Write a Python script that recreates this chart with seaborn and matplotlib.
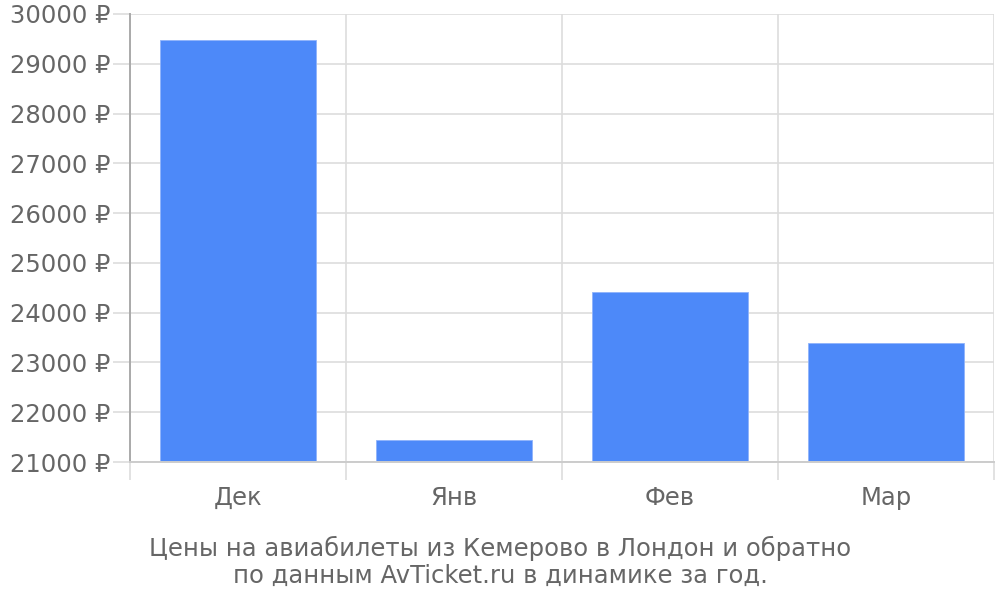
import matplotlib
matplotlib.use("Agg")
import matplotlib.pyplot as plt
import numpy as np
import pandas as pd
import seaborn as sns

# данные графика
months = ["Дек", "Янв", "Фев", "Мар"]
prices = [29470, 21450, 24420, 23385]
y_ticks = list(range(21000, 30001, 1000))
caption = "Цены на авиабилеты из Кемерово в Лондон и обратно\nпо данным AvTicket.ru в динамике за год."

TEXT = "#666666"
GRID = "#dddddd"
FS = 17.5

sns.set_theme(style="white")
plt.rcParams["font.family"] = ["DejaVu Sans"]

df = pd.DataFrame({"month": months, "price": prices})

fig = plt.figure(figsize=(10, 6), dpi=100)
ax = fig.add_axes([0.13, 0.23, 0.864, 0.7467])

sns.barplot(data=df, x="month", y="price", color="#4d89f9", saturation=1,
            width=0.72, edgecolor="#8fb3fb", linewidth=0.6, ax=ax, zorder=3)

ax.set_ylim(y_ticks[0], y_ticks[-1])
ax.set_xlim(-0.5, len(months) - 0.5)
ax.set_yticks(y_ticks)
ax.set_yticklabels([f"{v} ₽" for v in y_ticks])

# границы категорий: вертикальная сетка и засечки вниз
bounds = np.arange(len(months) + 1) - 0.5
ax.set_xticks(bounds)
ax.set_xticklabels([""] * len(bounds))
ax.set_xticks(np.arange(len(months)), minor=True)
ax.set_xticklabels(months, minor=True)
ax.tick_params(axis="x", which="both", bottom=True)
ax.tick_params(axis="y", left=True)
ax.tick_params(axis="x", which="major", length=13, width=1.2, color=GRID, direction="out")
ax.tick_params(axis="x", which="minor", length=0, pad=17, labelsize=FS, labelcolor=TEXT)
ax.tick_params(axis="y", length=12, width=1.2, color=GRID, pad=2, labelsize=FS, labelcolor=TEXT)

ax.grid(True, which="major", color=GRID, linewidth=1.2, zorder=0)
ax.set_axisbelow(True)

for side in ["top", "right"]:
    ax.spines[side].set_visible(False)
ax.spines["left"].set_color("#aaaaaa")
ax.spines["left"].set_linewidth(1.4)
ax.spines["bottom"].set_color("#cccccc")
ax.spines["bottom"].set_linewidth(1.4)
ax.spines["left"].set_zorder(4)
ax.spines["bottom"].set_zorder(4)

ax.set_xlabel("")
ax.set_ylabel("")

fig.text(0.5, 0.064, caption, ha="center", va="center", fontsize=FS,
         color=TEXT, linespacing=1.15)

fig.savefig("out.png", dpi=100)
